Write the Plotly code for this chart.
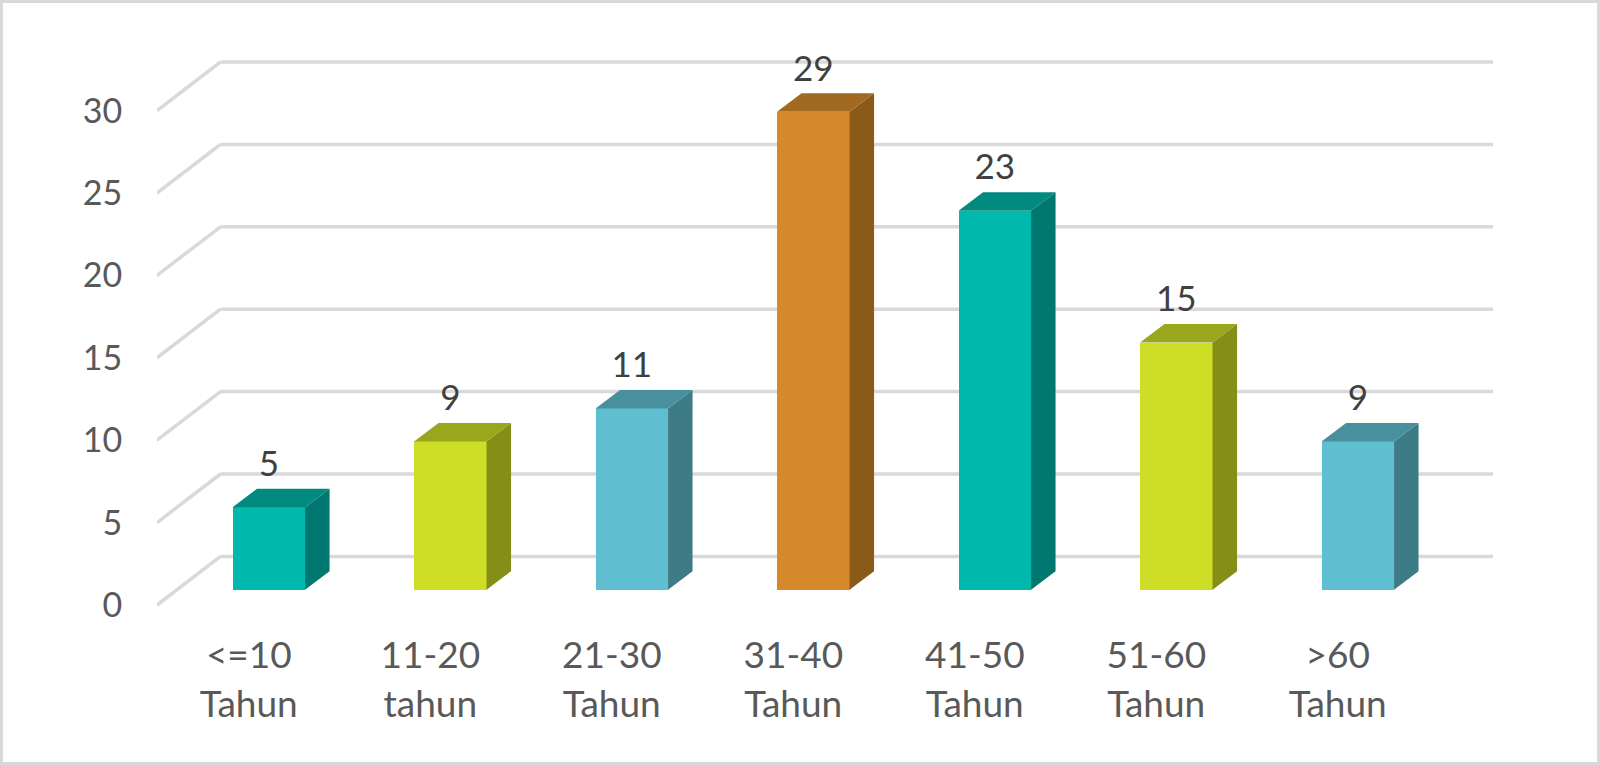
import plotly.graph_objects as go

# data
kategori = ["<=10<br>Tahun", "11-20<br>tahun", "21-30<br>Tahun", "31-40<br>Tahun",
            "41-50<br>Tahun", "51-60<br>Tahun", ">60<br>Tahun"]
nilai = [5, 9, 11, 29, 23, 15, 9]
y_ticks = [0, 5, 10, 15, 20, 25, 30]

warna_depan = ["#00B8AC", "#CEDD25", "#5FBFD0", "#D6892A", "#00B8AC", "#CEDD25", "#5FBFD0"]
warna_atas = ["#008A80", "#9AA61C", "#48909D", "#A26A20", "#008A80", "#9AA61C", "#48909D"]
warna_sisi = ["#00776F", "#858F18", "#3D7B87", "#8A5A19", "#00776F", "#858F18", "#3D7B87"]

W, H = 1600, 765
ML, MR, MT, MB = 157, 107, 10, 145
PX_X = 181.5    # pixels per category
PX_Y = 16.48    # pixels per unit of value
X0_PX = 268.8   # centre of first bar
Y0_PX = 589.7   # base of the bars

x_min = (ML - X0_PX) / PX_X
x_max = (W - MR - X0_PX) / PX_X
y_min = (Y0_PX - (H - MB)) / PX_Y
y_max = (Y0_PX - MT) / PX_Y

# 3d look, offsets in axis units
lebar = 72.5 / PX_X
dx_bar, dy_bar = 24.5 / PX_X, 18.5 / PX_Y
x_belakang = (220.5 - X0_PX) / PX_X
y_depan = -15.3 / PX_Y
y_belakang = 33.3 / PX_Y
x_label = -20 / PX_X

pos = list(range(len(nilai)))
fig = go.Figure()

# front faces
fig.add_trace(go.Bar(x=pos, y=nilai, width=lebar, marker_color=warna_depan,
                     marker_line_width=0, showlegend=False, hoverinfo="skip"))

# side and top faces
for i, v in enumerate(nilai):
    kanan = i + lebar / 2
    kiri = i - lebar / 2
    fig.add_trace(go.Scatter(
        x=[kanan, kanan + dx_bar, kanan + dx_bar, kanan, kanan],
        y=[0, dy_bar, v + dy_bar, v, 0],
        mode="lines", fill="toself", fillcolor=warna_sisi[i], line_width=0,
        showlegend=False, hoverinfo="skip"))
    fig.add_trace(go.Scatter(
        x=[kiri, kiri + dx_bar, kanan + dx_bar, kanan, kiri],
        y=[v, v + dy_bar, v + dy_bar, v, v],
        mode="lines", fill="toself", fillcolor=warna_atas[i], line_width=0,
        showlegend=False, hoverinfo="skip"))

# value labels
fig.add_trace(go.Scatter(x=pos, y=[v + 40 / PX_Y for v in nilai], mode="text",
                         text=[str(v) for v in nilai], textposition="middle center",
                         textfont=dict(family="Lato", size=35, color="#404040"),
                         showlegend=False, hoverinfo="skip"))

# back wall grid and floor diagonals
shapes = []
garis = dict(color="#D9D9D9", width=3.5)
for t in y_ticks:
    shapes.append(dict(type="line", xref="x", yref="y", layer="below", line=garis,
                       x0=x_min, y0=t + y_depan, x1=x_belakang, y1=t + y_belakang))
    shapes.append(dict(type="line", xref="x", yref="y", layer="below", line=garis,
                       x0=x_belakang, y0=t + y_belakang, x1=x_max, y1=t + y_belakang))

# chart border
pw, ph = W - ML - MR, H - MT - MB
shapes.append(dict(type="rect", xref="paper", yref="paper", layer="below",
                   x0=(1.5 - ML) / pw, x1=(W - 1.5 - ML) / pw,
                   y0=(1.5 - MB) / ph, y1=(H - MB - 1.5) / ph,
                   line=dict(color="#D9D9D9", width=3)))

fig.update_layout(
    width=W, height=H,
    margin=dict(l=ML, r=MR, t=MT, b=MB),
    paper_bgcolor="white", plot_bgcolor="white",
    bargap=0, shapes=shapes,
    font=dict(family="Lato", size=37, color="#595959"),
    xaxis=dict(range=[x_min, x_max], tickmode="array",
               tickvals=[p + x_label for p in pos], ticktext=kategori,
               ticks="outside", ticklen=3, tickcolor="rgba(0,0,0,0)",
               showgrid=False, zeroline=False, showline=False, automargin=False),
    yaxis=dict(range=[y_min, y_max], tickmode="array",
               tickvals=[t + y_depan for t in y_ticks], ticktext=[str(t) for t in y_ticks],
               tickfont=dict(size=34),
               ticks="outside", ticklen=27, tickcolor="rgba(0,0,0,0)",
               showgrid=False, zeroline=False, showline=False, automargin=False),
)

# page sits flush with the window
fig.write_html("out.html", config={"displayModeBar": False},
               post_script="document.body.style.margin='0';")
